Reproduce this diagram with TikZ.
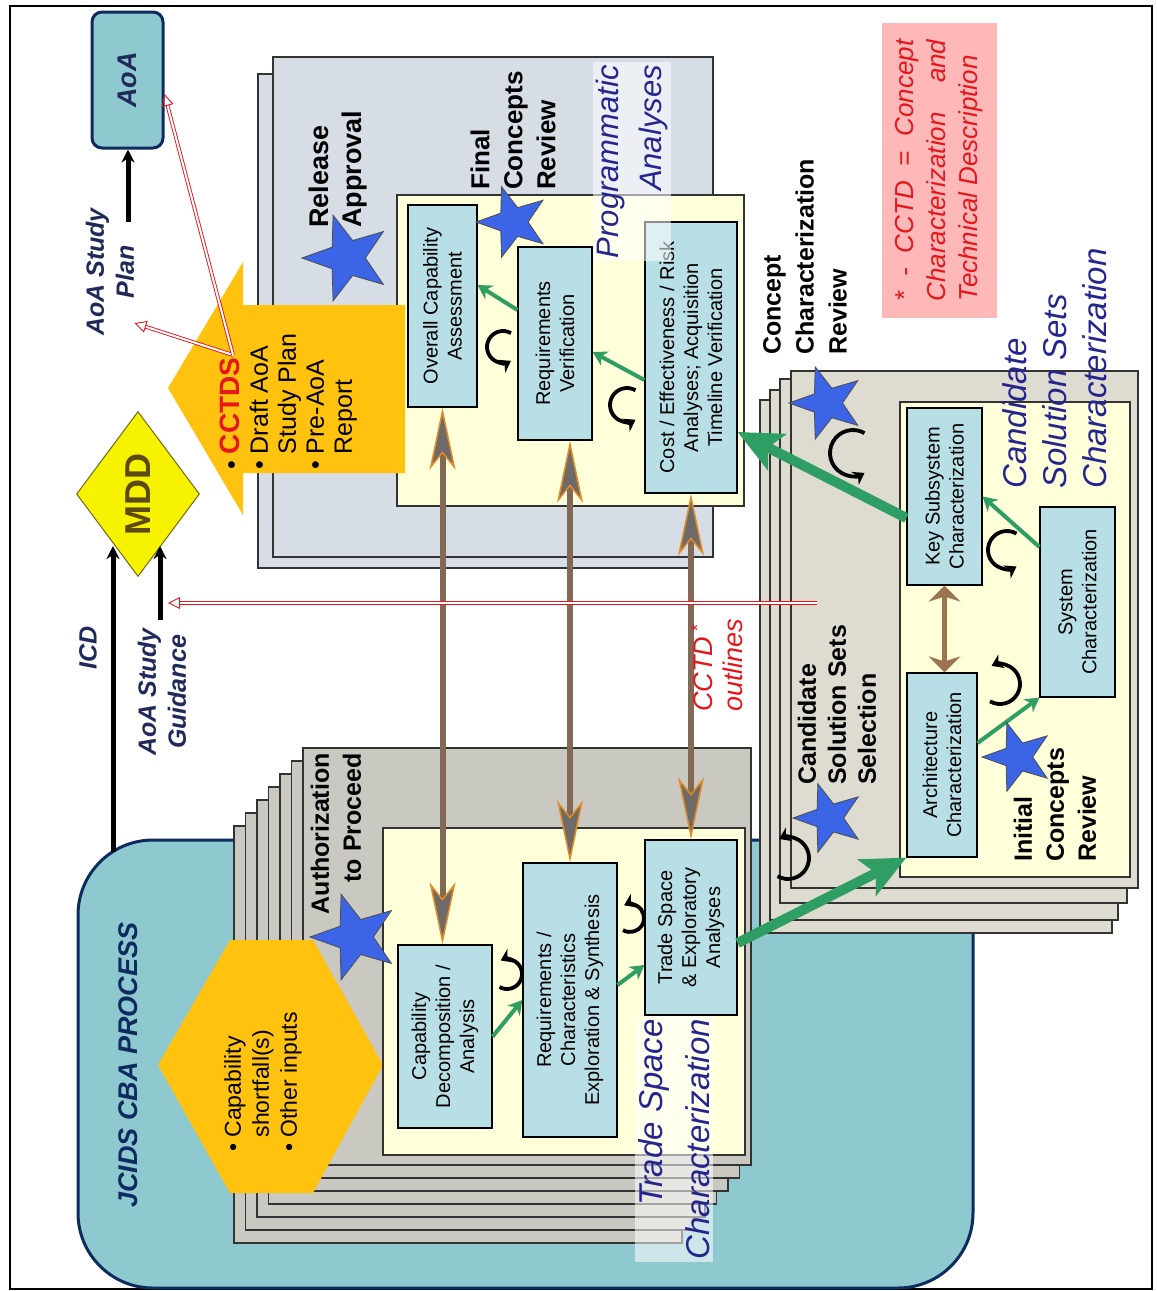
\documentclass[tikz,border=0pt]{standalone}
\usepackage{fontspec}
\setmainfont{Liberation Sans}
\usetikzlibrary{shapes.geometric,arrows.meta}

\definecolor{jcids}{HTML}{8FC9D0}
\definecolor{navy}{HTML}{0D2B5E}
\definecolor{tradepage}{HTML}{C9C9C1}
\definecolor{progpage}{HTML}{D6DDE5}
\definecolor{candpage}{HTML}{DEDBD0}
\definecolor{panel}{HTML}{FFFFD9}
\definecolor{boxblue}{HTML}{B9DFE6}
\definecolor{gold}{HTML}{FFC20E}
\definecolor{mddyellow}{HTML}{F7F200}
\definecolor{mddtext}{HTML}{5C4A10}
\definecolor{starblue}{HTML}{3B64E6}
\definecolor{arrowgreen}{HTML}{2E9E63}
\definecolor{shaft}{HTML}{826955}
\definecolor{tipgray}{HTML}{6E6A68}
\definecolor{tiporange}{HTML}{E08A2A}
\definecolor{smallbrown}{HTML}{9C7550}
\definecolor{phaseblue}{HTML}{25258F}
\definecolor{inkblue}{HTML}{1F2A5A}
\definecolor{legendpink}{HTML}{FFB8B8}
\definecolor{cctdred}{HTML}{E5161C}

\begin{document}
\begin{tikzpicture}[x=1pt, y=-1pt,
    box/.style={draw, line width=1.2pt, fill=boxblue, rotate=90, align=center,
      inner sep=1pt, font=\fontsize{20}{24}\selectfont},
    milestone/.style={rotate=90, align=left, inner sep=0pt,
      font=\bfseries\fontsize{25}{32}\selectfont},
    phase/.style={rotate=90, text=phaseblue, inner sep=3pt,
      font=\itshape\fontsize{33}{40}\selectfont},
    inlabel/.style={rotate=90, align=center, text=inkblue, inner sep=0pt,
      font=\bfseries\itshape\fontsize{25}{30}\selectfont},
    starmark/.style={star, star points=5, star point ratio=2.45, fill=starblue,
      draw=black!70, line width=0.8pt, rotate=90, inner sep=0pt},
    pagebox/.style={draw=black!80, line width=1.2pt},
    blk/.style={line width=5pt, >={Stealth[length=13pt, width=13pt]}, ->},
    grn/.style={draw=arrowgreen, line width=4pt, >={Stealth[length=14pt, width=16pt]}, ->},
    biggrn/.style={draw=arrowgreen, line width=10pt,
      >={Stealth[length=44pt, width=40pt, inset=10pt]}, ->},
    brn/.style={draw=shaft, line width=6pt,
      >={Stealth[length=62pt, width=26pt, inset=16pt, color=tiporange, fill=tipgray, line width=1.5pt]}, <->},
    brnsmall/.style={draw=smallbrown, line width=5pt,
      >={Stealth[length=16pt, width=32pt, inset=5pt]}, <->},
    loopy/.style={line width=3.8pt, >={Stealth[length=11pt, width=15pt]}, ->},
    redarr/.style={draw=cctdred, double=white, double distance=2pt, line width=0.9pt,
      >={Triangle[open, length=12pt, width=12pt]}, ->}
  ]
  \useasboundingbox (0,0) rectangle (1157,1291);
  \draw[line width=1.2pt] (10,6) rectangle (1152,1289);

  % JCIDS CBA process
  \draw[fill=jcids, draw=navy, line width=3pt, rounded corners=75pt] (78,840) rectangle (973,1288);
  \node[rotate=90, text=navy, font=\bfseries\itshape\fontsize{27}{30}\selectfont] (jcids) at (128,1065) {JCIDS CBA PROCESS};

  % trade space pages
  \foreach \k in {6,5,...,0}
    \draw[pagebox, fill=tradepage] (303-11.5*\k, 748+13*\k) rectangle +(448,417);
  \fill[gold] (158,1065) -- (230,940) -- (313,940) -- (383,1065) -- (313,1193) -- (230,1193) -- cycle;
  \node[rotate=90, anchor=north west, align=left, inner sep=0pt, font=\fontsize{23}{28}\selectfont] (inputs) at (224,1152)
    {\textbullet~Capability\\\phantom{\textbullet~}shortfall(s)\\\textbullet~Other inputs};

  % programmatic and candidate pages
  \draw[pagebox, fill=progpage] (258,74) rectangle (692,568);
  \draw[pagebox, fill=progpage] (273,57) rectangle (713,557);
  \foreach \l/\t/\r/\b in {760/400/1112/933, 770/390/1118/920, 780/379/1127/903, 791/371/1138/888}
    \draw[pagebox, fill=candpage] (\l,\t) rectangle (\r,\b);

  \draw[pagebox, fill=panel] (383,828) rectangle (745,1155);
  \draw[pagebox, fill=panel] (397,195) rectangle (744,506);
  \draw[pagebox, fill=panel] (900,402) rectangle (1130,877);

  % outputs arrow
  \fill[gold] (168,388) -- (243,262) -- (243,305) -- (405,305) -- (405,473) -- (243,473) -- (243,515) -- cycle;
  \node[rotate=90, anchor=north west, align=left, inner sep=0pt, font=\fontsize{25}{28}\selectfont] (outputs) at (220,470)
    {\textbullet~{\color{cctdred}\bfseries\fontsize{28}{28}\selectfont CCTDS}\\\textbullet~Draft AoA\\\phantom{\textbullet~}Study Plan\\\textbullet~Pre-AoA\\\phantom{\textbullet~}Report};

  % MDD and AoA
  \node[diamond, draw=olive!70!black, fill=mddyellow, line width=1pt, rotate=90, minimum width=165pt,
    minimum height=123pt, inner sep=0pt, text=mddtext, font=\bfseries\fontsize{36}{36}\selectfont] (mdd) at (138,494) {MDD};
  \node[draw=navy, fill=jcids, line width=3pt, rounded corners=10pt, rotate=90, minimum width=136pt,
    minimum height=71pt, text=inkblue, font=\bfseries\itshape\fontsize{27}{27}\selectfont] (aoa) at (127.5,80) {AoA};
  \node[inlabel] (plan) at (110,272) {AoA Study\\Plan};
  \node[inlabel] (icd) at (88,648) {ICD};
  \node[inlabel] (guid) at (162,692) {AoA Study\\Guidance};

  \coordinate (icdfoot) at (113,852);
  \coordinate (icdtip) at (113,546);
  \draw[blk] (icdfoot) -- (icdtip);
  \coordinate (guidfoot) at (160,620);
  \draw[blk] (guidfoot) -- (guidfoot |- icdtip);
  \coordinate (planfoot) at (128,222);
  \draw[blk] (planfoot) -- (planfoot |- aoa.west);

  % activities
  \node[box, minimum width=183pt, minimum height=94pt] (cap) at (445,1036.5) {Capability\\Decomposition /\\Analysis};
  \node[box, minimum width=274pt, minimum height=94pt] (reqc) at (570,1000) {Requirements /\\Characteristics\\Exploration \& Synthesis};
  \node[box, minimum width=175pt, minimum height=92pt] (trade) at (691,927.5) {Trade Space\\\& Exploratory\\Analyses};
  \node[box, minimum width=202pt, minimum height=69pt] (overall) at (442.5,306) {Overall Capability\\Assessment};
  \node[box, minimum width=193pt, minimum height=74pt] (reqv) at (555,343.5) {Requirements\\Verification};
  \node[box, minimum width=271pt, minimum height=92pt] (cost) at (691,357.5) {Cost / Effectiveness / Risk\\Analyses; Acquisition\\Timeline Verification};
  \node[box, minimum width=177pt, minimum height=75pt] (keysub) at (944.5,496.5) {Key Subsystem\\Characterization};
  \node[box, minimum width=184pt, minimum height=70pt] (arch) at (942,765) {Architecture\\Characterization};
  \node[box, minimum width=190pt, minimum height=75pt] (syschar) at (1077.5,602) {System\\Characterization};

  \draw[brn] (overall.west) -- (overall.west |- cap.east);
  \draw[brn] (reqc.east |- reqv.west) -- (reqc.east);
  \draw[brn] (cost.west) -- (trade.east);
  \draw[brnsmall] (keysub.west) -- (keysub.west |- arch.east);

  \draw[grn] (cap.south) -- (reqc.north |- 0,1000);
  \draw[grn] (reqc.south |- 0,985) -- (trade.north |- 0,965);
  \draw[grn] (cost.north |- 0,380) -- (reqv.south |- 0,352);
  \draw[grn] (reqv.north |- 0,310) -- (overall.south |- 0,285);
  \draw[grn] (arch.south |- 0,743) -- (syschar.north west);
  \draw[grn] (syschar.north |- 0,547) -- (keysub.south);
  \draw[biggrn] (trade.south |- 0,943) -- (arch.north west);
  \draw[biggrn] (keysub.north |- 0,518) -- (cost.south |- 0,432);

  % iteration loops
  \foreach \cx/\cy/\r in {503/347/16, 627/405/17, 1007/550/19, 853/453/23}
    \draw[loopy] (\cx,\cy) ++(-60:\r) arc[start angle=-60, end angle=-300, radius=\r];
  \foreach \cx/\cy/\r in {507/974/15, 630/918/14, 788/858/21, 1000/684/20}
    \draw[loopy] (\cx,\cy) ++(120:\r) arc[start angle=120, end angle=-115, radius=\r];

  % reviews
  \node[starmark, minimum size=90pt] (authstar) at (355,937) {};
  \node[starmark, minimum size=90pt] (relstar) at (347,258) {};
  \node[starmark, minimum size=74pt] (finalstar) at (513,222) {};
  \node[starmark, minimum size=76pt] (ccrstar) at (827,403) {};
  \node[starmark, minimum size=72pt] (cssstar) at (829,818) {};
  \node[starmark, minimum size=72pt] (icrstar) at (1018,757) {};

  \node[milestone, anchor=east, align=right] (auth) at (336,753) {Authorization\\to Proceed};
  \node[milestone, anchor=west, font=\bfseries\fontsize{27}{33}\selectfont] (rel) at (338,228) {Release\\Approval};
  \node[milestone, anchor=west, font=\bfseries\fontsize{26}{33}\selectfont] (final) at (513,190) {Final\\Concepts\\Review};
  \node[milestone, anchor=west, font=\bfseries\fontsize{25}{33}\selectfont] (ccr) at (805,355) {Concept\\Characterization\\Review};
  \node[milestone, anchor=west, font=\bfseries\fontsize{25}{30}\selectfont] (css) at (837,785) {Candidate\\Solution Sets\\Selection};
  \node[milestone, anchor=west] (icr) at (1055,862) {Initial\\Concepts\\Review};

  \node[phase, anchor=east, align=right, fill=white, fill opacity=0.55, text opacity=1,
    font=\itshape\fontsize{31}{43}\selectfont] (progname) at (632,62) {Programmatic\\Analyses};
  \node[phase, anchor=east, align=right, fill=white, fill opacity=0.55, text opacity=1,
    font=\itshape\fontsize{33}{47}\selectfont] (tradename) at (674,1016) {Trade Space\\Characterization};
  \node[phase, anchor=west, align=left] (candname) at (1055,492) {Candidate\\Solution Sets\\Characterization};
  \node[rotate=90, anchor=west, align=left, inner sep=0pt, text=cctdred,
    font=\itshape\fontsize{27}{30}\selectfont] (outlines) at (717,712) {CCTD\,\textsuperscript{*}\\outlines};

  \node[rotate=90, fill=legendpink, minimum width=295pt, minimum height=115pt, text=cctdred, align=left,
    font=\itshape\fontsize{26}{32}\selectfont] (legend) at (939.5,170.5)
    {\makebox[262pt][s]{* - CCTD = Concept}\\\makebox[262pt][s]{Characterization and}\\Technical Description};

  % CCTD flows
  \coordinate (cctdsrc) at (233,355);
  \draw[redarr] (cctdsrc) -- ([yshift=13pt]plan.south west);
  \draw[redarr] (cctdsrc) -- ([yshift=-14pt]aoa.south);
  \coordinate (outlinesrc) at (817,603);
  \coordinate (guidtip) at (168,603);
  \draw[redarr] (outlinesrc) -- (guidtip);
\end{tikzpicture}
\end{document}
